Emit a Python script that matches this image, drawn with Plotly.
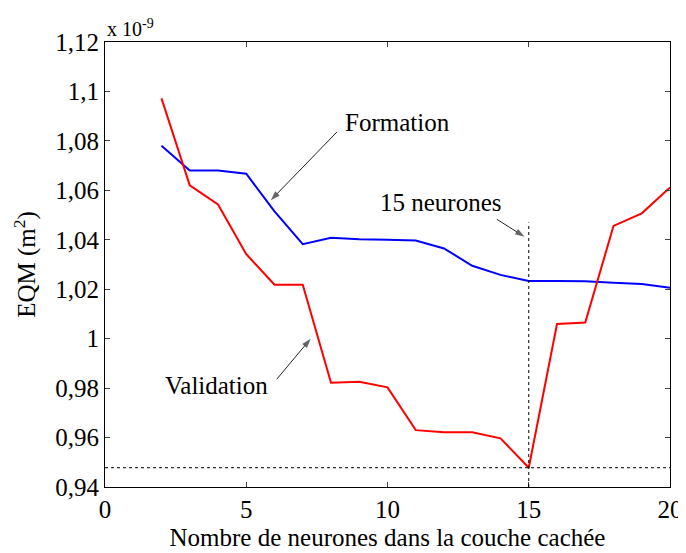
import plotly.graph_objects as go

# nombre de neurones dans la couche cachee
neurones = [2, 3, 4, 5, 6, 7, 8, 9, 10, 11, 12, 13, 14, 15, 16, 17, 18, 19, 20]

# EQM (x 1e-9 m2)
formation = [1.078, 1.068, 1.068, 1.0667, 1.0515, 1.0382, 1.0408, 1.0402, 1.0400, 1.0397,
             1.0365, 1.0295, 1.0258, 1.0233, 1.0233, 1.0232, 1.0226, 1.0221, 1.0206]
validation = [1.0972, 1.062, 1.0543, 1.0342, 1.0218, 1.0218, 0.9822, 0.9826, 0.9803, 0.9630,
              0.9621, 0.9621, 0.9597, 0.9478, 1.0059, 1.0065, 1.0456, 1.0507, 1.0612]

y_ticks = [0.94, 0.96, 0.98, 1.0, 1.02, 1.04, 1.06, 1.08, 1.1, 1.12]
y_labels = ['0,94', '0,96', '0,98', '1', '1,02', '1,04', '1,06', '1,08', '1,1', '1,12']
x_ticks = [0, 5, 10, 15, 20]

choix = 15
haut_repere = 1.047

serif = 'Liberation Serif'
fs = 25

fig = go.Figure()

fig.add_trace(go.Scatter(x=neurones, y=formation, mode='lines',
                         line=dict(color='#0000ff', width=2), name='Formation'))
fig.add_trace(go.Scatter(x=neurones, y=validation, mode='lines',
                         line=dict(color='#ff0000', width=2), name='Validation'))

v_min = min(validation)
fig.add_shape(type='line', xref='x', yref='y', x0=0, x1=20, y0=v_min, y1=v_min,
              line=dict(color='black', width=1, dash='dot'))
fig.add_shape(type='line', xref='x', yref='y', x0=choix, x1=choix, y0=0.94, y1=haut_repere,
              line=dict(color='black', width=1, dash='dot'))

# fleches : (queue x, queue y, pointe x, pointe y)
arrows = [
    (8.21, 1.0836, 5.87, 1.0560),
    (13.87, 1.0483, 14.85, 1.0412),
    (6.08, 0.9836, 7.28, 1.0000),
]
for tx, ty, hx, hy in arrows:
    fig.add_trace(go.Scatter(
        x=[tx, hx], y=[ty, hy], mode='lines+markers',
        line=dict(color='#222222', width=1),
        marker=dict(symbol=['circle', 'arrow'], size=[0, 10], color='#222222',
                    angleref='previous', line=dict(width=0)),
        hoverinfo='skip'
    ))

labels = [
    ('Formation', 10.34, 1.0876),
    ('15 neurones', 11.89, 1.0549),
    ('Validation', 3.93, 0.9812),
]
for txt, lx, ly in labels:
    fig.add_annotation(x=lx, y=ly, xref='x', yref='y', text=txt, showarrow=False,
                       font=dict(family=serif, size=fs, color='black'))

fig.add_annotation(x=0, y=1.0, xref='paper', yref='paper', xanchor='left', yanchor='bottom',
                   text='x 10<sup>-9</sup>', showarrow=False, yshift=0,
                   font=dict(family=serif, size=20, color='black'))

# la page ajoute une marge de 8 px autour du graphique
fig.update_layout(
    width=678, height=545,
    margin=dict(l=97, r=16, t=34, b=66, autoexpand=False),
    paper_bgcolor='white', plot_bgcolor='white',
    showlegend=False,
    font=dict(family=serif, size=fs, color='black'),
    xaxis=dict(range=[0, 20], tickvals=x_ticks, ticks='inside', ticklen=5,
               showline=True, linecolor='black', linewidth=1, mirror='ticks',
               showgrid=False, zeroline=False, automargin=False,
               tickfont=dict(family=serif, size=fs),
               title=dict(text='Nombre de neurones dans la couche cachée', standoff=6,
                          font=dict(family=serif, size=fs))),
    yaxis=dict(range=[0.94, 1.12], tickvals=y_ticks, ticktext=y_labels, ticks='inside',
               ticklen=5, showline=True, linecolor='black', linewidth=1, mirror='ticks',
               showgrid=False, zeroline=False, automargin=False,
               tickfont=dict(family=serif, size=fs),
               title=dict(text='EQM (m<sup>2</sup>)', standoff=12,
                          font=dict(family=serif, size=fs))),
)

fig.write_html("out.html")
